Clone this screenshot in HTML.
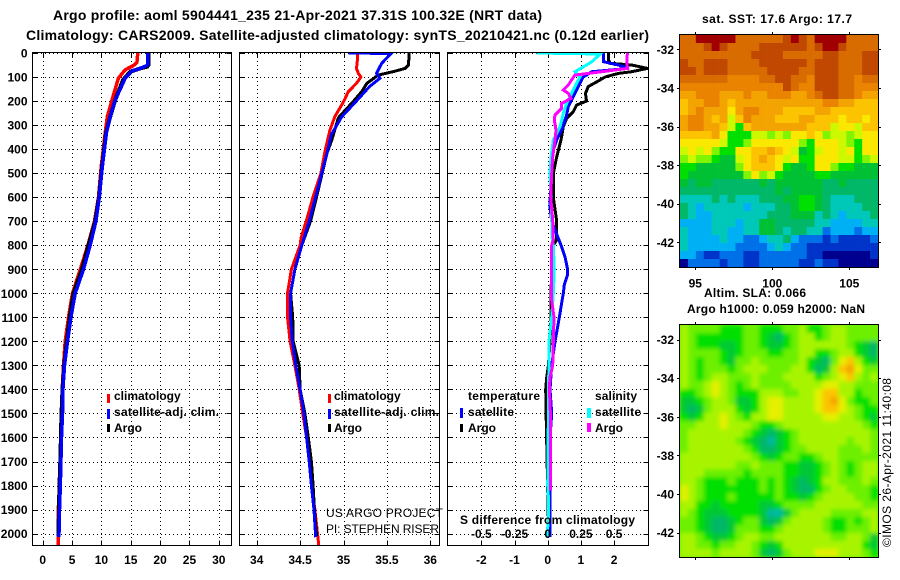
<!DOCTYPE html>
<html lang="en">
<head>
<meta charset="utf-8">
<title>Argo profile 5904441_235</title>
<style>
html,body{margin:0;padding:0;background:#fff;}
svg{display:block;font-family:"Liberation Sans",sans-serif;}
.t12{font-size:12px;font-weight:bold;fill:#000;}
.t14{font-size:14px;font-weight:bold;fill:#000;}
.r12{font-size:12px;fill:#000;}
</style>
</head>
<body>
<svg id="chart" xmlns="http://www.w3.org/2000/svg" width="900" height="580" viewBox="0 0 900 580">
  <defs>
    <clipPath id="clip-t"><rect x="32" y="53" width="200" height="493"/></clipPath>
    <clipPath id="clip-s"><rect x="239" y="53" width="201" height="493"/></clipPath>
    <clipPath id="clip-d"><rect x="448" y="53" width="200" height="493"/></clipPath>
    <clipPath id="clip-sla"><rect x="680" y="325" width="198" height="232"/></clipPath>
    <filter id="soft" x="-5%" y="-5%" width="110%" height="110%"><feGaussianBlur stdDeviation="2.2"/></filter>
  </defs>
  <rect width="900" height="580" fill="#fff"/>
  <text class="t14" x="53" y="20" textLength="489" lengthAdjust="spacing">Argo profile: aoml 5904441_235 21-Apr-2021 37.31S 100.32E (NRT data)</text>
  <text class="t14" x="26" y="40" textLength="623" lengthAdjust="spacing">Climatology: CARS2009. Satellite-adjusted climatology: synTS_20210421.nc (0.12d earlier)</text>
  <g id="panels"></g>
  <g id="maps"></g>

  <g>
    <rect x="107" y="394" width="3" height="9" fill="#f00"/>
    <text class="t12" x="114" y="400">climatology</text>
    <rect x="107" y="409" width="3" height="10" fill="#00f"/>
    <text class="t12" x="114" y="416" textLength="105" lengthAdjust="spacing">satellite-adj. clim.</text>
    <rect x="107" y="424" width="3" height="8" fill="#000"/>
    <text class="t12" x="114" y="432">Argo</text>
  </g>
  <g>
    <rect x="328" y="394" width="3" height="9" fill="#f00"/>
    <text class="t12" x="334" y="400">climatology</text>
    <rect x="328" y="409" width="3" height="10" fill="#00f"/>
    <text class="t12" x="334" y="416" textLength="105" lengthAdjust="spacing">satellite-adj. clim.</text>
    <rect x="328" y="424" width="3" height="8" fill="#000"/>
    <text class="t12" x="334" y="432">Argo</text>
    <text class="r12" x="326" y="517" textLength="117" lengthAdjust="spacing">US ARGO PROJECT</text>
    <text class="r12" x="326" y="533" textLength="113" lengthAdjust="spacing">PI: STEPHEN RISER</text>
  </g>
  <g>
    <text class="t12" x="468" y="400" textLength="72" lengthAdjust="spacing">temperature</text>
    <text class="t12" x="595" y="400" textLength="42" lengthAdjust="spacing">salinity</text>
    <rect x="460" y="408" width="3" height="10" fill="#00f"/>
    <text class="t12" x="468" y="416" textLength="46" lengthAdjust="spacing">satellite</text>
    <rect x="460" y="424" width="3" height="8" fill="#000"/>
    <text class="t12" x="468" y="432">Argo</text>
    <rect x="587" y="408" width="4" height="10" fill="#0ff"/>
    <text class="t12" x="595" y="416" textLength="46" lengthAdjust="spacing">satellite</text>
    <rect x="587" y="423" width="4" height="9" fill="#f0f"/>
    <text class="t12" x="595" y="432">Argo</text>
    <text class="t12" x="460" y="524" textLength="175" lengthAdjust="spacing">S difference from climatology</text>
  </g>

  <text class="t12" x="702" y="23" textLength="150" lengthAdjust="spacing">sat. SST: 17.6 Argo: 17.7</text>
  <text class="t12" x="704" y="297" textLength="102" lengthAdjust="spacing">Altim. SLA: 0.066</text>
  <text class="t12" x="687" y="313" textLength="178" lengthAdjust="spacing">Argo h1000: 0.059 h2000: NaN</text>
  <text class="r12" transform="translate(891,547) rotate(-90)" textLength="169" lengthAdjust="spacing">©IMOS 26-Apr-2021 11:40:08</text>
</svg>

<script>
/* axis tick values */
var depthTicks = [0,100,200,300,400,500,600,700,800,900,1000,1100,1200,1300,1400,1500,1600,1700,1800,1900,2000];
var tempTicks = [0,5,10,15,20,25,30];
var salTicks = [34,34.5,35,35.5,36];
var salTickLabels = ['34','34.5','35','35.5','36'];
var diffTicks = [-2,-1,0,1,2];
var diffTickLabels = ['-2','-1','0','1','2'];
var salDiffLabels = ['-0.5','-0.25','0','0.25','0.5'];
var lonTicks = [95,100,105];
var latTicks = [-32,-34,-36,-38,-40,-42];

/* temperature panel */
var tempClimDepth = [0,40,50,70,105,196,265,333,474,600,700,800,900,1000,1100,1200,1300,1400,1500,1600,1700,1800,1900,2000,2050];
var tempClim = [16.2,16.05,15.6,14.05,12.9,11.8,11.0,10.65,9.97,9.5,8.82,7.7,6.4,5.08,4.4,3.83,3.55,3.32,3.2,3.1,3.0,2.87,2.65,2.68,2.7];
var tempArgoDepth = [0,50,57,65,78,112,196,265,333,474,600,700,800,900,1000,1100,1200,1300,1400,1500,1600,1700,1800,1900,2010];
var tempArgo = [18.0,18.0,17.8,16.5,14.9,13.7,12.35,11.5,10.8,10.1,9.6,8.95,7.8,6.7,5.25,4.6,4.1,3.66,3.37,3.2,3.1,3.0,2.87,2.76,2.7];
var tempSatDepth = [0,50,55,65,75,105,196,265,333,474,600,700,800,900,1000,1100,1200,1300,1400,1500,1600,1700,1800,1900,2015];
var tempSat = [17.9,17.9,17.5,16.5,15.2,14.05,12.35,11.5,10.85,10.15,9.65,9.06,8.1,6.95,5.54,4.8,4.23,3.71,3.44,3.37,3.2,3.1,3.0,2.87,2.76];

/* salinity panel */
var salClimDepth = [0,29,64,85,100,126,161,203,265,320,403,500,598,695,770,800,900,1000,1100,1200,1300,1400,1500,1600,1700,1800,1900,2000,2050];
var salClim = [35.16,35.16,35.15,35.17,35.2,35.15,35.055,35.0,34.9,34.845,34.79,34.74,34.65,34.575,34.51,34.5,34.4,34.355,34.355,34.385,34.44,34.49,34.53,34.575,34.605,34.63,34.67,34.7,34.715];
var salArgoDepth = [0,50,64,78,92,126,161,203,230,270,320,362,417,500,598,700,800,900,1000,1100,1200,1300,1400,1500,1600,1700,1800,1900,2010];
var salArgo = [35.755,35.75,35.71,35.57,35.4,35.27,35.21,35.11,35.04,34.94,34.9,34.865,34.81,34.755,34.69,34.62,34.52,34.44,34.39,34.415,34.42,34.49,34.5,34.555,34.595,34.63,34.65,34.665,34.69];
var salSatDepth = [0,2,43,85,105,140,203,265,340,417,500,598,695,800,900,1000,1100,1200,1300,1400,1500,1600,1700,1800,1900,2015];
var salSat = [35.055,35.547,35.44,35.38,35.42,35.3,35.14,34.98,34.86,34.81,34.75,34.68,34.61,34.52,34.44,34.39,34.39,34.41,34.45,34.5,34.545,34.575,34.605,34.63,34.66,34.68];

/* difference panel */
var diffTArgoDepth = [0,29,43,50,64,78,85,100,112,140,168,200,217,244,272,307,362,432,501,601,700,778,800,900,1000,1100,1200,1300,1350,1400,1480,2015];
var diffTArgo = [1.83,1.83,1.88,2.53,3.01,2.53,2.13,1.73,1.58,1.22,1.14,1.17,0.87,0.77,0.57,0.47,0.40,0.27,0.17,0.17,0.27,0.27,0.17,0.12,0.10,0.10,0.07,0.02,-0.03,-0.06,-0.05,0.03];
var diffTSatDepth = [0,36,50,64,78,100,140,182,224,258,321,362,404,501,640,701,765,800,848,900,923,965,1000,1083,1139,1200,1300,1400,1500,1600,1950,2015];
var diffTSat = [1.68,1.68,2.13,2.43,1.33,1.07,0.92,0.77,0.62,0.57,0.42,0.27,0.17,0.10,0.07,0.12,0.30,0.40,0.52,0.60,0.60,0.50,0.47,0.37,0.30,0.22,0.12,0.07,0.12,0.07,0.07,0.07];
var diffSSatDepth = [0,4,36,50,78,100,126,168,210,251,307,362,432,501,599,696,779,800,900,1000,1100,1200,1300,1400,1500,1800,1850,1950,2000,2013];
var diffSSat = [-0.33,1.58,1.33,1.17,0.82,0.97,0.87,0.72,0.57,0.47,0.37,0.17,0.10,0.07,0.10,0.12,0.14,0.17,0.20,0.17,0.12,0.04,0.04,0.02,0.02,0,0.02,0.02,-0.02,-0.01];
var diffSArgoDepth = [0,43,64,78,92,112,133,154,168,189,210,231,258,279,321,362,432,501,599,696,779,800,900,1030,1100,1200,1300,1350,1400,1500,1820];
var diffSArgo = [2.40,2.38,2.41,1.63,0.82,0.72,0.62,0.47,0.62,0.70,0.42,0.42,0.22,0.20,0.25,0.22,0.15,0.12,0.09,0.15,0.17,0.12,0.12,0.12,0.19,0.17,0.15,0.07,0.05,0.08,0.08];

/* sea surface temperature map, colour levels 0-16 */
var sstLevels = [
[14,14,16,16,16,16,16,14,14,14,14,14,14,15,16,15,14,16,16,16,16,14,14,14,14],
[14,14,14,15,16,15,14,14,14,14,15,15,15,15,15,15,14,15,16,16,15,14,14,14,14],
[14,14,14,14,14,14,14,14,14,15,15,15,15,14,14,14,14,14,15,15,14,14,14,15,15],
[15,14,14,15,15,15,14,14,14,14,15,15,15,15,15,15,14,15,15,15,14,14,14,15,15],
[15,15,14,15,15,15,14,14,14,14,14,15,15,15,15,14,14,15,15,15,14,14,14,15,15],
[14,14,14,14,14,14,13,13,13,13,14,14,15,15,14,14,13,15,15,15,14,14,13,14,14],
[13,13,13,13,13,13,13,13,13,13,13,13,13,15,14,13,13,15,15,15,14,14,13,13,13],
[12,12,13,13,13,12,12,12,13,12,12,13,13,13,12,12,13,14,15,15,14,14,13,12,12],
[11,12,12,13,13,12,11,12,12,12,12,12,12,12,12,12,12,12,13,13,12,12,11,11,11],
[11,12,13,12,12,12,10,12,13,13,12,12,12,11,11,11,11,12,12,11,11,11,11,11,11],
[12,13,13,12,11,12,9,11,13,12,12,12,11,11,11,12,12,11,11,11,10,11,11,10,11],
[12,13,13,12,12,11,9,7,11,12,12,12,12,12,12,12,11,11,11,9,10,10,9,11,11],
[11,11,11,11,12,10,7,7,7,9,9,8,9,8,10,10,11,10,8,9,9,8,9,10,10],
[10,10,10,10,10,9,7,7,8,10,10,10,10,10,10,8,7,10,10,10,9,8,7,10,10],
[9,10,9,10,8,7,7,10,10,11,11,12,11,10,9,6,7,9,10,10,9,10,7,10,10],
[8,9,8,8,7,6,6,9,10,11,12,11,10,9,10,7,7,10,10,10,9,9,7,8,9],
[7,7,6,6,6,6,6,8,10,11,11,11,10,7,6,6,7,10,10,8,7,7,6,6,6],
[7,6,6,6,6,6,6,6,8,10,8,9,7,6,6,6,6,7,7,6,6,6,6,6,6],
[6,5,6,6,5,5,5,5,5,5,6,5,6,6,6,6,6,6,5,5,6,5,5,5,5],
[5,5,5,5,5,5,5,5,5,5,5,5,6,5,6,6,6,6,5,5,5,5,5,5,5],
[4,4,4,4,5,4,5,4,4,4,5,5,5,6,6,7,7,6,5,4,4,4,5,5,5],
[5,4,3,4,4,4,4,4,3,4,4,4,5,5,6,7,7,6,5,4,4,4,4,5,5],
[5,4,3,3,4,4,4,4,4,4,4,5,5,5,6,6,6,4,5,4,3,4,4,4,5],
[3,3,3,3,4,4,4,3,4,4,6,6,5,5,5,5,5,4,4,3,3,3,3,4,4],
[4,3,3,3,4,4,3,3,4,4,6,6,5,4,5,5,4,4,2,3,3,3,2,3,3],
[4,3,3,3,3,4,3,3,2,2,3,4,4,5,3,2,2,2,1,2,1,1,1,1,2],
[4,3,3,3,3,3,3,2,2,2,2,3,4,3,2,2,1,1,1,1,1,1,1,1,1],
[3,3,2,1,1,2,2,2,1,1,2,2,2,2,2,2,1,1,0,0,0,0,0,0,1],
[0,2,2,2,2,1,2,2,1,1,2,2,2,2,2,1,1,2,1,1,0,0,0,0,0]
];

/* sea level anomaly map, colour levels 0-16 */
var slaLevels = [
[9,8,8,8,8,7,7,7,8,8,7,7,7,8,8,9,7,7,8,9,9,8,8,8,8],
[9,8,7,7,7,7,7,7,8,8,7,6,5,7,8,9,9,7,8,9,9,8,8,8,8],
[9,8,7,7,7,6,6,7,8,8,7,6,6,7,8,9,9,9,9,9,9,8,7,6,5],
[9,8,8,8,8,7,6,7,8,8,8,7,7,8,8,9,9,7,7,8,9,9,7,6,5],
[9,8,7,8,8,7,6,8,8,9,8,8,8,8,8,9,7,6,5,8,10,11,9,7,6],
[9,8,7,8,8,8,7,8,9,9,9,8,8,8,9,9,7,5,6,9,11,12,10,8,8],
[9,8,7,8,9,9,8,8,8,9,8,8,8,9,9,9,9,7,8,9,10,11,9,8,9],
[9,8,8,9,10,9,8,7,8,9,8,8,8,8,9,9,9,9,10,10,9,9,8,8,8],
[7,7,8,9,10,9,8,7,7,7,9,9,9,8,8,9,9,10,11,11,9,9,7,8,8],
[6,6,7,8,9,9,8,6,6,7,9,10,10,9,9,9,9,10,11,12,10,8,7,7,8],
[6,5,6,8,9,9,9,7,6,7,9,10,10,9,9,9,9,10,11,11,10,9,8,7,7],
[7,6,7,9,9,10,9,8,7,9,9,10,10,9,9,9,9,9,10,10,9,9,8,7,6],
[8,8,9,9,9,10,9,9,9,8,7,7,8,9,9,9,9,9,9,9,9,9,9,8,7],
[8,9,9,9,9,9,9,9,8,7,6,5,6,7,8,9,9,9,9,9,9,9,9,9,8],
[8,9,9,9,9,9,9,8,7,6,5,4,6,7,8,9,9,9,9,9,9,8,9,9,8],
[8,9,9,9,9,9,9,9,8,7,5,5,6,7,8,8,9,9,9,9,8,8,8,9,8],
[9,9,9,9,9,9,9,9,9,8,7,6,7,8,8,7,7,8,9,9,8,8,8,8,8],
[9,9,9,9,9,9,9,8,8,9,8,8,8,7,7,6,6,7,8,9,8,7,8,9,9],
[9,9,9,8,8,8,8,8,7,8,8,8,8,7,7,6,6,7,8,9,8,7,8,9,9],
[9,9,8,7,7,7,8,7,7,7,8,7,8,7,6,5,6,7,9,9,8,8,8,9,8],
[10,9,8,7,7,7,7,7,7,7,8,7,8,7,6,5,5,7,8,9,9,8,8,8,7],
[10,9,8,7,7,7,8,7,7,7,7,7,8,7,7,6,7,8,9,9,9,9,8,8,7],
[9,9,7,7,6,7,7,7,7,7,6,6,7,8,8,8,8,9,9,9,9,9,9,8,8],
[9,8,7,6,6,6,7,7,7,7,6,4,4,6,8,9,9,9,9,8,8,8,8,9,9],
[8,8,7,6,5,5,6,7,8,8,6,5,6,8,9,9,9,9,8,7,7,8,7,8,9],
[8,8,7,6,5,5,6,8,8,8,7,7,8,9,9,9,9,9,8,7,7,8,8,8,9],
[9,9,8,7,6,6,7,8,9,9,8,8,9,9,9,9,9,9,9,8,8,9,9,8,6],
[9,9,8,8,7,8,8,9,9,8,7,6,7,9,9,9,9,9,9,9,9,9,9,7,6],
[9,9,9,9,8,9,9,9,9,8,6,5,6,8,9,9,9,10,10,10,9,9,9,8,7]
];

var NS = 'http://www.w3.org/2000/svg';
var sstPalette = ['#000090','#0034c8','#0070e8','#00b0f4','#00c8b8','#00b868','#00c034','#00e000','#80f400','#ccf800','#fae800','#fcc400','#f4a400','#ea8400','#d86c00','#c04800','#a00000'];
var slaPalette = ['#000090','#0034c8','#0070e8','#00b0f4','#00b8a0','#00b868','#00c834','#00e000','#6cf000','#a8f400','#e4f000','#fcc400','#f4a400','#ea8400','#d86c00','#c04800','#a00000'];

var panelsGroup = document.getElementById('panels');
var mapsGroup = document.getElementById('maps');

function make(tag, attrs, parent) {
  var el = document.createElementNS(NS, tag);
  for (var k in attrs) { el.setAttribute(k, attrs[k]); }
  parent.appendChild(el);
  return el;
}

/* axis functions */
function yDepth(d) { return 53 + d * 0.2403; }
function xTemp(v) { return 42.7 + v * 5.87; }
function xSal(v) { return 256.7 + (v - 34) * 86.8; }
function xDiff(v) { return 547.7 + v * 33.2; }
function xLon(v) { return 695.3 + (v - 95) * 15.4; }
function yLatTop(v) { return 49.3 + (-32 - v) * 19.3; }
function yLatBottom(v) { return 339.6 + (-32 - v) * 19.3; }

function snap(p) { return Math.round(p) + 0.5; }

function drawPanel(left, right, xFn, xVals, xLabels, leftLabels, panelName) {
  var top = 52.5, bottom = 545.5;
  var g = make('g', {}, panelsGroup);
  
  
  var i, p, el;
  for (i = 0; i < depthTicks.length; i++) {
    p = snap(yDepth(depthTicks[i]));
    el = make('line', {x1:Math.ceil(left), x2:right, y1:p, y2:p, stroke:'#000', 'stroke-width':1, 'stroke-dasharray':'1 3'}, g);
    
    
    el = make('path', {d:'M'+left+' '+p+'h5M'+(right-5)+' '+p+'h5', stroke:'#000', 'stroke-width':1, fill:'none', 'shape-rendering':'crispEdges'}, g);
    
    
    if (leftLabels) {
      el = make('text', {x:27.5, y:yDepth(depthTicks[i])+4.5, 'text-anchor':'end', 'class':'t12'}, g);
      
      
      el.textContent = String(depthTicks[i]);
    }
  }
  for (i = 0; i < xVals.length; i++) {
    p = snap(xFn(xVals[i]));
    el = make('line', {x1:p, x2:p, y1:Math.ceil(top), y2:bottom, stroke:'#000', 'stroke-width':1, 'stroke-dasharray':'1 3'}, g);
    
    
    el = make('path', {d:'M'+p+' '+top+'v5M'+p+' '+(bottom-5)+'v5', stroke:'#000', 'stroke-width':1, fill:'none', 'shape-rendering':'crispEdges'}, g);
    
    
    el = make('text', {x:xFn(xVals[i]), y:564, 'text-anchor':'middle', 'class':'t12'}, g);
    
    
    el.textContent = xLabels[i];
  }
  return g;
}

function drawFrame(left, right, parent) {
  var el = make('rect', {x:left, y:52.5, width:right-left, height:493, fill:'none', stroke:'#000', 'stroke-width':1, 'shape-rendering':'crispEdges'}, parent);
  
  
}

function drawLine(parent, depths, values, xFn, color, width, clipId, name) {
  var pts = [];
  for (var i = 0; i < values.length; i++) {
    pts.push(xFn(values[i]).toFixed(1) + ',' + yDepth(depths[i]).toFixed(1));
  }
  var el = make('polyline', {points:pts.join(' '), fill:'none', stroke:color, 'stroke-width':width, 'stroke-linejoin':'miter', 'clip-path':'url(#'+clipId+')', 'shape-rendering':'crispEdges'}, parent);
  
  
}

var tempLabels = tempTicks.map(String);
var tempPanel = drawPanel(32.5, 231.5, xTemp, tempTicks, tempLabels, true, 'temperature-panel');
drawLine(tempPanel, tempClimDepth, tempClim, xTemp, '#f00', 3.5, 'clip-t', 'temperature-climatology-line');
drawLine(tempPanel, tempArgoDepth, tempArgo, xTemp, '#000', 4, 'clip-t', 'temperature-argo-line');
drawLine(tempPanel, tempSatDepth, tempSat, xTemp, '#00f', 3.5, 'clip-t', 'temperature-satellite-line');
drawFrame(32.5, 231.5, tempPanel);

var salPanel = drawPanel(239.5, 439.5, xSal, salTicks, salTickLabels, false, 'salinity-panel');
drawLine(salPanel, salClimDepth, salClim, xSal, '#f00', 3, 'clip-s', 'salinity-climatology-line');
drawLine(salPanel, salArgoDepth, salArgo, xSal, '#000', 3, 'clip-s', 'salinity-argo-line');
drawLine(salPanel, salSatDepth, salSat, xSal, '#00f', 3, 'clip-s', 'salinity-satellite-line');
drawFrame(239.5, 439.5, salPanel);

var diffPanel = drawPanel(447.5, 648.5, xDiff, diffTicks, diffTickLabels, false, 'difference-panel');
drawLine(diffPanel, diffTArgoDepth, diffTArgo, xDiff, '#000', 3, 'clip-d', 'temperature-difference-argo-line');
drawLine(diffPanel, diffTSatDepth, diffTSat, xDiff, '#00f', 3, 'clip-d', 'temperature-difference-satellite-line');
drawLine(diffPanel, diffSSatDepth, diffSSat, xDiff, '#0ff', 3, 'clip-d', 'salinity-difference-satellite-line');
drawLine(diffPanel, diffSArgoDepth, diffSArgo, xDiff, '#f0f', 3, 'clip-d', 'salinity-difference-argo-line');
drawFrame(447.5, 648.5, diffPanel);
for (var sd = 0; sd < diffTicks.length; sd++) {
  var sdLabel = make('text', {x:xDiff(diffTicks[sd]), y:538, 'text-anchor':'middle', 'class':'t12'}, diffPanel);
  
  
  sdLabel.textContent = salDiffLabels[sd];
}

function drawMap(levels, colors, top, height, yFn, smooth, mapName, showLon) {
  var left = 680, width = 198;
  var g = make('g', {}, mapsGroup);
  
  
  var host = g;
  if (smooth) {
    var base = make('rect', {x:left, y:top, width:width, height:height, fill:colors[8]}, g);
    
    
    var clipper = make('g', {'clip-path':'url(#clip-sla)'}, g);
    
    
    host = make('g', {filter:'url(#soft)'}, clipper);
    
    
  }
  var rows = levels.length;
  for (var r = 0; r < rows; r++) {
    var cols = levels[r].length;
    var ch = height / rows, cw = width / cols;
    for (var c = 0; c < cols; c++) {
      var cell = make('rect', {x:(left + c * cw).toFixed(2), y:(top + r * ch).toFixed(2), width:(cw + 0.3).toFixed(2), height:(ch + 0.3).toFixed(2), fill:colors[levels[r][c]]}, host);
      
      
    }
  }
  var frame = make('rect', {x:left - 0.5, y:top - 0.5, width:width + 1, height:height + 1, fill:'none', stroke:'#000', 'stroke-width':1, 'shape-rendering':'crispEdges'}, g);
  
  
  var i, p, el;
  for (i = 0; i < lonTicks.length; i++) {
    p = snap(xLon(lonTicks[i]));
    el = make('path', {d:'M'+p+' '+(top-3)+'v3M'+p+' '+(top+height)+'v3', stroke:'#000', fill:'none', 'shape-rendering':'crispEdges'}, g);
    
    
    if (showLon) {
      el = make('text', {x:xLon(lonTicks[i]), y:top + height + 20.5, 'text-anchor':'middle', 'class':'t12'}, g);
      
      
      el.textContent = String(lonTicks[i]);
    }
  }
  for (i = 0; i < latTicks.length; i++) {
    p = snap(yFn(latTicks[i]));
    el = make('path', {d:'M'+(left-3)+' '+p+'h3M'+(left+width)+' '+p+'h3', stroke:'#000', fill:'none', 'shape-rendering':'crispEdges'}, g);
    
    
    el = make('text', {x:674, y:yFn(latTicks[i]) + 4.5, 'text-anchor':'end', 'class':'t12'}, g);
    
    
    el.textContent = String(latTicks[i]);
  }
}

drawMap(sstLevels, sstPalette, 35, 232, yLatTop, false, 'sst-map', true);
drawMap(slaLevels, slaPalette, 325, 232, yLatBottom, true, 'sla-map', false);
</script>
</body>
</html>
